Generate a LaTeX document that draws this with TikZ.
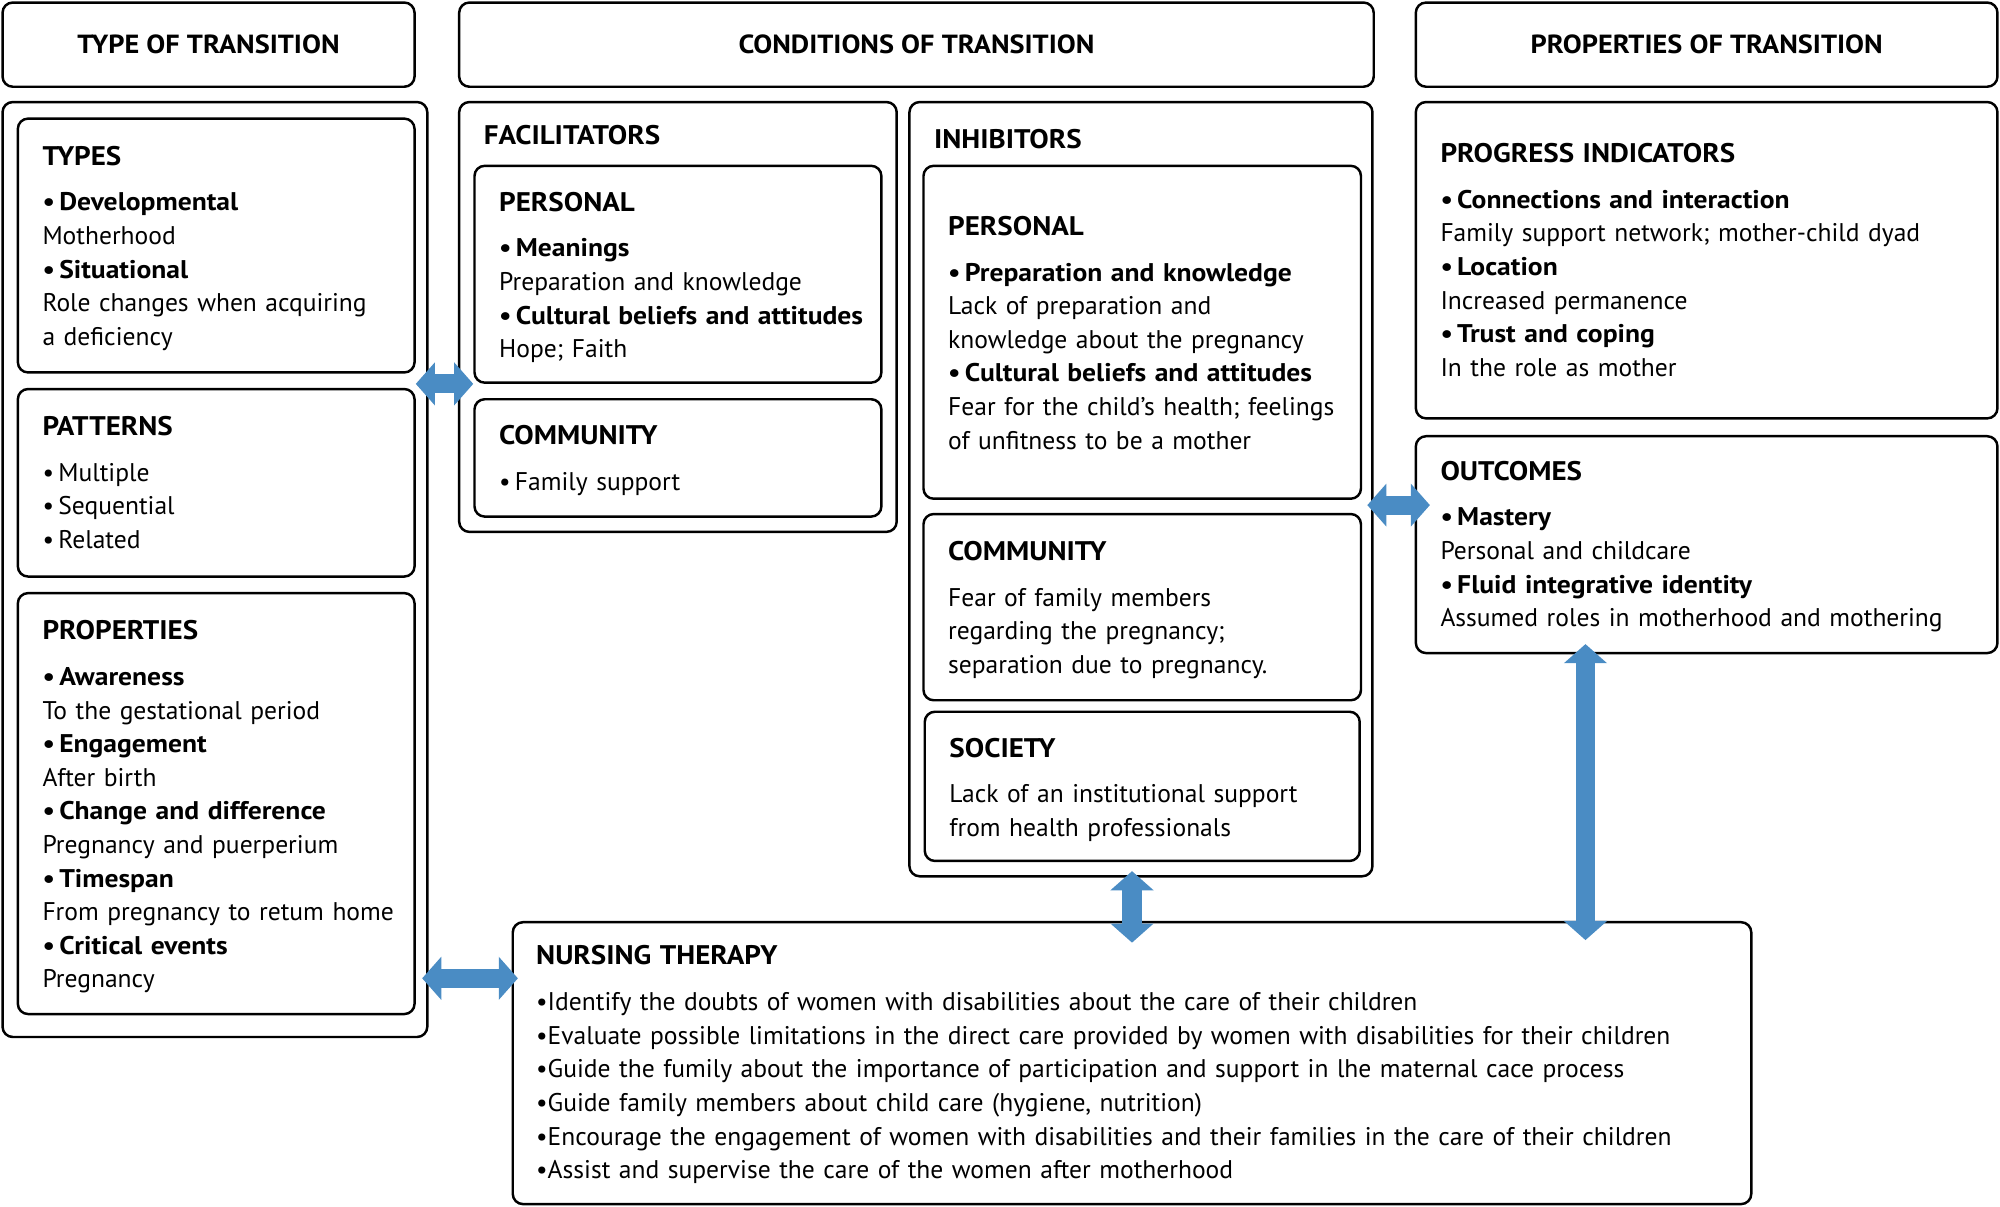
\documentclass[tikz,border=0pt]{standalone}
\usepackage{fontspec}
\setmainfont{PT Sans}[BoldFeatures={FakeStretch=1.08}]
\usepackage{tikz}
\usetikzlibrary{positioning,fit,arrows.meta}
\definecolor{arrowblue}{RGB}{74,140,196}
\newcommand{\hd}[1]{{\fontsize{12}{15}\selectfont\bfseries #1}\\[5.4pt]}
\newcommand{\bi}[1]{\textbf{•\,#1}}

\begin{document}
\begin{tikzpicture}[
  x=0.02cm, y=-0.02cm,
  box/.style={draw, line width=1.1pt, rounded corners=0.16cm, inner sep=0pt},
  hdrtxt/.style={inner sep=0pt, font=\bfseries\fontsize{11.7}{15}\selectfont},
  txt/.style={anchor=base west, inner sep=0pt, align=left, text width=19cm,
    font=\fontsize{11.4}{15}\selectfont},
  dblarrow/.style={draw=arrowblue, line width=0.3cm,
    {Triangle[width=0.66cm,length=0.3cm]}-{Triangle[width=0.66cm,length=0.3cm]}}
    ]
\useasboundingbox (0,0) rectangle (1568,946);

% headers
\node[box, fit={(2,2) (325,68)}] (hType) {};
\node[box, fit={(360,2) (1077,68)}] (hCond) {};
\node[box, fit={(1110,2) (1566,68)}] (hProp) {};
\node[hdrtxt] (hTypeTxt) at (hType) {TYPE OF TRANSITION};
\node[hdrtxt] (hCondTxt) at (hCond) {CONDITIONS OF TRANSITION};
\node[hdrtxt] (hPropTxt) at (hProp) {PROPERTIES OF TRANSITION};

% type of transition
\node[box, fit={(2,80) (335,813)}] (typeOut) {};
\node[box, fit={(14,93) (325,292)}] (types) {};
\node[box, fit={(14,305) (325,452)}] (patterns) {};
\node[box, fit={(14,465) (325,795)}] (props) {};
\node[txt] (typesTxt) at (33,129.5) {\hd{TYPES}
  \bi{Developmental}\\ Motherhood\\ \bi{Situational}\\
  Role changes when acquiring\\ a deficiency};
\node[txt] (patternsTxt) at (33,341.5) {\hd{PATTERNS}
  •\,Multiple\\ •\,Sequential\\ •\,Related};
\node[txt] (propsTxt) at (33,501.5) {\hd{PROPERTIES}
  \bi{Awareness}\\ To the gestational period\\ \bi{Engagement}\\ After birth\\
  \bi{Change and difference}\\ Pregnancy and puerperium\\ \bi{Timespan}\\
  From pregnancy to retum home\\ \bi{Critical events}\\ Pregnancy};

% facilitators
\node[box, fit={(360,80) (703,417)}] (facOut) {};
\node[box, fit={(372,130) (691,300)}] (facPers) {};
\node[box, fit={(372,313) (691,405)}] (facComm) {};
\node[txt] (facLbl) at (379,113.5) {\fontsize{12}{15}\selectfont\bfseries FACILITATORS};
\node[txt] (facPersTxt) at (391,165.5) {\hd{PERSONAL}
  \bi{Meanings}\\ Preparation and knowledge\\
  \bi{Cultural beliefs and attitudes}\\ Hope; Faith};
\node[txt] (facCommTxt) at (391,348.5) {\hd{COMMUNITY}
  •\,Family support};

% inhibitors
\node[box, fit={(713,80) (1076,687)}] (inhOut) {};
\node[box, fit={(724,130) (1067,391)}] (inhPers) {};
\node[box, fit={(724,403) (1067,549)}] (inhComm) {};
\node[box, fit={(725,558) (1066,675)}] (inhSoc) {};
\node[txt] (inhLbl) at (732,116.5) {\fontsize{12}{15}\selectfont\bfseries INHIBITORS};
\node[txt] (inhPersTxt) at (743,184.5) {\hd{PERSONAL}
  \bi{Preparation and knowledge}\\ Lack of preparation and\\
  knowledge about the pregnancy\\ \bi{Cultural beliefs and attitudes}\\
  Fear for the child’s health; feelings\\ of unfitness to be a mother};
\node[txt] (inhCommTxt) at (743,439.5) {\hd{COMMUNITY}
  Fear of family members\\ regarding the pregnancy;\\
  separation due to pregnancy.};
\node[txt] (inhSocTxt) at (744,593.5) {\hd{SOCIETY}
  Lack of an institutional support\\ from health professionals};

% properties of transition
\node[box, fit={(1110,80) (1566,328)}] (progress) {};
\node[box, fit={(1110,342) (1566,512)}] (outcomes) {};
\node[txt] (progressTxt) at (1129,127.5) {\hd{PROGRESS INDICATORS}
  \bi{Connections and interaction}\\ Family support network; mother-child dyad\\
  \bi{Location}\\ Increased permanence\\ \bi{Trust and coping}\\ In the role as mother};
\node[txt] (outcomesTxt) at (1129,376.5) {\hd{OUTCOMES}
  \bi{Mastery}\\ Personal and childcare\\ \bi{Fluid integrative identity}\\
  Assumed roles in motherhood and mothering};

% nursing therapy
\node[box, fit={(402,723) (1373,944)}] (nursing) {};
\node[txt] (nursingTxt) at (420,756.5) {\hd{NURSING THERAPY}
  •Identify the doubts of women with disabilities about the care of their children\\
  •Evaluate possible limitations in the direct care provided by women with disabilities for their children\\
  •Guide the fumily about the importance of participation and support in lhe maternal cace process\\
  •Guide family members about child care (hygiene, nutrition)\\
  •Encourage the engagement of women with disabilities and their families in the care of their children\\
  •Assist and supervise the care of the women after motherhood};

% arrows
\draw[dblarrow] (types.east |- facPers.south) -- (facPers.south west);
\draw[dblarrow, shorten <=-0.1cm, shorten >=-0.1cm] (typeOut.east |- 0,767) -- (nursing.west |- 0,767);
\draw[dblarrow, shorten <=-0.1cm, shorten >=-0.24cm] (inhOut.east |- 0,396) -- (outcomes.west |- 0,396);
\draw[dblarrow, shorten <=-0.1cm, shorten >=-0.34cm] (inhOut.south -| nursing.north) -- (nursing.north);
\draw[dblarrow, shorten <=-0.16cm, shorten >=-0.3cm] (outcomes.south -| 1243,0) -- (nursing.north -| 1243,0);

\end{tikzpicture}
\end{document}
